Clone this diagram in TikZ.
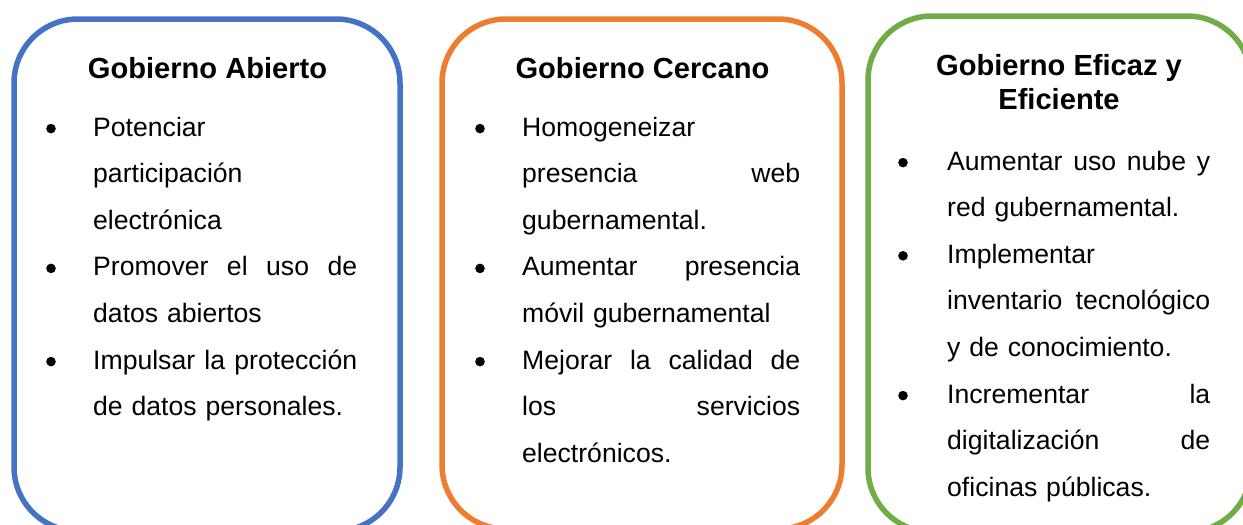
\documentclass[tikz,border=0pt]{standalone}
\usepackage{fontspec}
\setmainfont{Liberation Sans}
\definecolor{cblue}{HTML}{4472C4}
\definecolor{corange}{HTML}{ED7D31}
\definecolor{cgreen}{HTML}{70AD47}
\begin{document}
\begin{tikzpicture}[x=1pt,y=-1pt,
  panel/.style={line width=5.5pt, rounded corners=64pt},
  titletext/.style={font=\fontsize{29.1}{34}\selectfont\bfseries, anchor=base, inner sep=0pt},
  bodytext/.style={font=\fontsize{26.6}{46.6}\selectfont, anchor=base west, inner sep=0pt},
  bulletdot/.style={circle, fill=black, minimum size=9.6pt, inner sep=0pt, yshift=7.4pt}]
\useasboundingbox (0,0) rectangle (1243,525);
% panels
\draw[panel, cblue]   (14,19) rectangle (400,531);
\draw[panel, corange] (442,19) rectangle (842,529);
\draw[panel, cgreen]  (868,16) rectangle (1251,532);
% titles
\node[titletext] (t1) at (207.5,78) {Gobierno Abierto};
\node[titletext] (t2) at (642.5,78) {Gobierno Cercano};
\node[titletext] (t3a) at (1059,75) {Gobierno Eficaz y};
\node[titletext] (t3b) at (1059,109) {Eficiente};
% box 1
\node[bulletdot] (d11) at (51,136) {};
\node[bodytext, text width=264pt] (i11) at (93,136) {Potenciar\\participación\\electrónica};
\node[bulletdot] (d12) at (51,275.8) {};
\node[bodytext, text width=264pt] (i12) at (93,275.8) {Promover\hfill el\hfill uso\hfill de\\datos abiertos};
\node[bulletdot] (d13) at (51,369) {};
\node[bodytext, text width=264pt] (i13) at (93,369) {Impulsar\hfill la\hfill protección\\de datos personales.};
% box 2
\node[bulletdot] (d21) at (480,136) {};
\node[bodytext, text width=278pt] (i21) at (522,136) {Homogeneizar\\presencia\hfill web\\gubernamental.};
\node[bulletdot] (d22) at (480,275.8) {};
\node[bodytext, text width=278pt] (i22) at (522,275.8) {Aumentar\hfill presencia\\móvil gubernamental};
\node[bulletdot] (d23) at (480,369) {};
\node[bodytext, text width=278pt] (i23) at (522,369) {Mejorar\hfill la\hfill calidad\hfill de\\los\hfill servicios\\electrónicos.};
% box 3
\node[bulletdot] (d31) at (903,170) {};
\node[bodytext, text width=263pt] (i31) at (947,170) {Aumentar\hfill uso\hfill nube\hfill y\\red gubernamental.};
\node[bulletdot] (d32) at (903,263.2) {};
\node[bodytext, text width=263pt] (i32) at (947,263.2) {Implementar\\inventario\hfill tecnológico\\y de conocimiento.};
\node[bulletdot] (d33) at (903,403) {};
\node[bodytext, text width=263pt] (i33) at (947,403) {Incrementar\hfill la\\digitalización\hfill de\\oficinas públicas.};
\end{tikzpicture}
\end{document}
